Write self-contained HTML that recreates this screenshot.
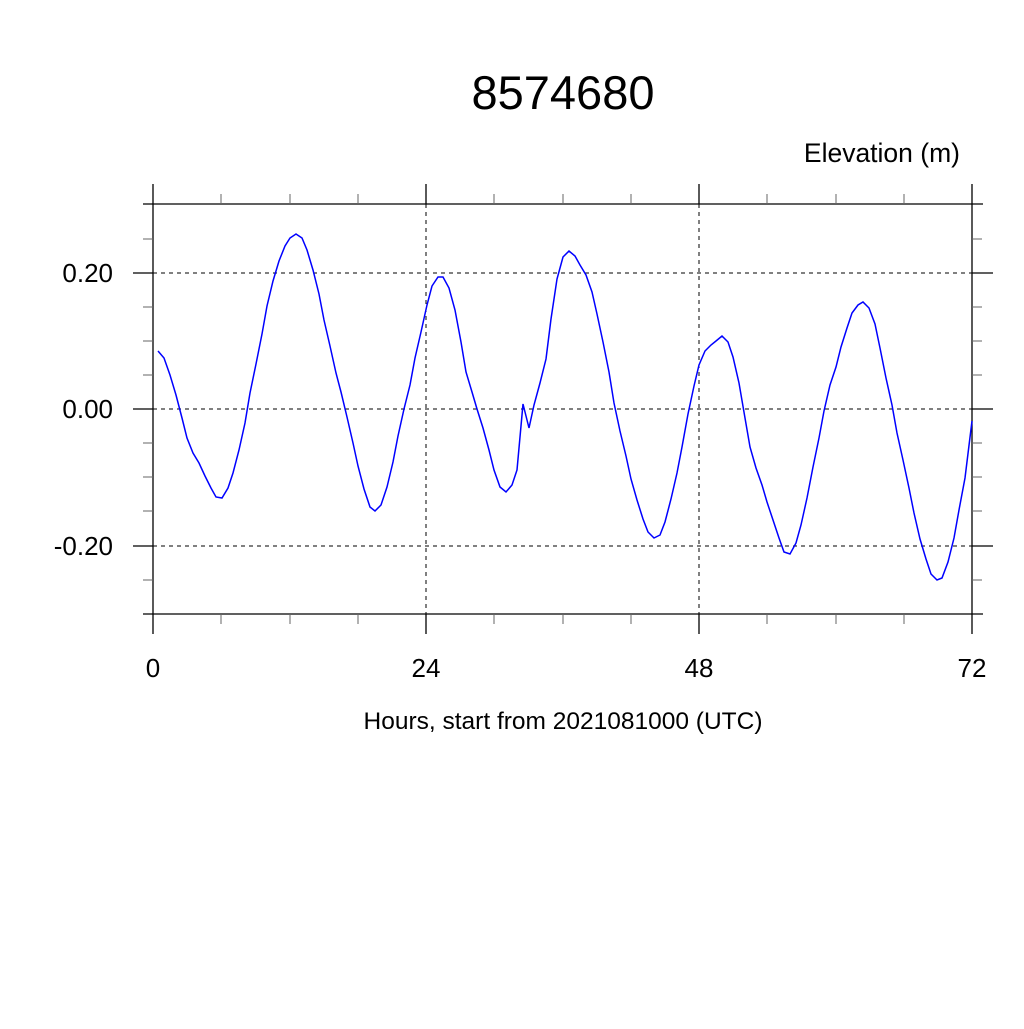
<!DOCTYPE html>
<html><head><style>body{margin:0;background:#fff}</style></head><body>
<svg width="1024" height="1024" xmlns="http://www.w3.org/2000/svg" font-family="Liberation Sans, sans-serif">
<rect width="1024" height="1024" fill="#fff"/>
<text x="563" y="109" font-size="47" text-anchor="middle">8574680</text>
<text x="960" y="162" font-size="26.5" text-anchor="end">Elevation (m)</text>
<g stroke="#000" stroke-width="1" stroke-dasharray="4,4">
<line x1="153" y1="273" x2="972" y2="273"/><line x1="153" y1="409" x2="972" y2="409"/><line x1="153" y1="546" x2="972" y2="546"/>
<line x1="153" y1="204" x2="153" y2="614"/><line x1="426" y1="204" x2="426" y2="614"/><line x1="699" y1="204" x2="699" y2="614"/><line x1="972" y1="204" x2="972" y2="614"/>
</g>
<g stroke="#000" stroke-width="1.3">
<line x1="143" y1="204" x2="983" y2="204"/><line x1="143" y1="614" x2="983" y2="614"/>
<line x1="153" y1="184" x2="153" y2="634"/><line x1="426" y1="184" x2="426" y2="204"/><line x1="699" y1="184" x2="699" y2="204"/><line x1="972" y1="184" x2="972" y2="634"/>
<line x1="426" y1="614" x2="426" y2="634"/><line x1="699" y1="614" x2="699" y2="634"/>
<line x1="133" y1="273" x2="153" y2="273"/><line x1="133" y1="409" x2="153" y2="409"/><line x1="133" y1="546" x2="153" y2="546"/>
<line x1="972" y1="273" x2="993" y2="273"/><line x1="972" y1="409" x2="993" y2="409"/><line x1="972" y1="546" x2="993" y2="546"/>
</g>
<g stroke="#666" stroke-width="1">
<line x1="221" y1="194" x2="221" y2="204"/><line x1="290" y1="194" x2="290" y2="204"/><line x1="358" y1="194" x2="358" y2="204"/>
<line x1="494" y1="194" x2="494" y2="204"/><line x1="563" y1="194" x2="563" y2="204"/><line x1="631" y1="194" x2="631" y2="204"/>
<line x1="767" y1="194" x2="767" y2="204"/><line x1="836" y1="194" x2="836" y2="204"/><line x1="904" y1="194" x2="904" y2="204"/>
<line x1="221" y1="614" x2="221" y2="624"/><line x1="290" y1="614" x2="290" y2="624"/><line x1="358" y1="614" x2="358" y2="624"/>
<line x1="494" y1="614" x2="494" y2="624"/><line x1="563" y1="614" x2="563" y2="624"/><line x1="631" y1="614" x2="631" y2="624"/>
<line x1="767" y1="614" x2="767" y2="624"/><line x1="836" y1="614" x2="836" y2="624"/><line x1="904" y1="614" x2="904" y2="624"/>
<line x1="143" y1="239" x2="153" y2="239"/><line x1="143" y1="307" x2="153" y2="307"/><line x1="143" y1="341" x2="153" y2="341"/><line x1="143" y1="375" x2="153" y2="375"/><line x1="143" y1="443" x2="153" y2="443"/><line x1="143" y1="477" x2="153" y2="477"/><line x1="143" y1="511" x2="153" y2="511"/><line x1="143" y1="580" x2="153" y2="580"/>
<line x1="972" y1="239" x2="982" y2="239"/><line x1="972" y1="307" x2="982" y2="307"/><line x1="972" y1="341" x2="982" y2="341"/><line x1="972" y1="375" x2="982" y2="375"/><line x1="972" y1="443" x2="982" y2="443"/><line x1="972" y1="477" x2="982" y2="477"/><line x1="972" y1="511" x2="982" y2="511"/><line x1="972" y1="580" x2="982" y2="580"/>
</g>
<g font-size="26" text-anchor="end">
<text x="113" y="282">0.20</text><text x="113" y="418">0.00</text><text x="113" y="555">-0.20</text>
</g>
<g font-size="26" text-anchor="middle">
<text x="153" y="677">0</text><text x="426" y="677">24</text><text x="699" y="677">48</text><text x="972" y="677">72</text>
</g>
<text x="563" y="729" font-size="24.5" text-anchor="middle">Hours, start from 2021081000 (UTC)</text>
<polyline fill="none" stroke="#0000ff" stroke-width="1.5" points="158,351 164,358 170,375 176,395 182,418 187,438 193,453 199,463 205,476 211,488 216,497 222,498 228,488 233,473 239,450 245,423 250,393 256,364 262,334 267,306 273,281 279,261 285,246 290,238 296,234 302,238 307,250 313,270 319,294 324,320 330,346 336,373 341,392 347,417 353,443 358,466 364,489 370,507 375,511 381,505 387,487 393,462 398,436 404,409 410,385 415,358 421,332 427,305 432,286 438,277 443,277 449,288 455,310 461,342 466,372 472,392 477,409 483,428 489,450 494,470 500,487 506,492 512,485 517,470 523,404 529,428 534,405 540,383 546,359 551,319 557,279 563,257 569,251 575,256 580,265 586,275 592,292 597,314 603,342 609,372 614,403 620,431 626,456 631,479 637,500 643,519 648,532 654,538 660,535 665,522 671,499 677,473 682,447 688,414 694,386 699,365 705,351 711,345 716,341 722,336 728,342 733,357 739,383 745,418 750,447 756,468 762,485 767,502 773,520 779,538 784,552 790,554 796,543 801,525 807,498 813,467 819,438 824,411 830,385 836,367 841,347 847,328 852,313 858,305 863,302 869,308 875,324 880,348 886,378 892,405 897,433 903,460 909,488 914,513 920,539 926,559 931,574 937,580 942,578 948,562 954,538 959,510 965,478 972,421"/>
</svg>
</body></html>
